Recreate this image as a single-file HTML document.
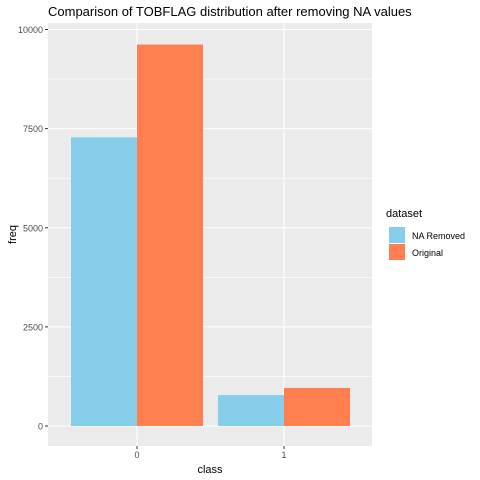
<!DOCTYPE html>
<html><head><meta charset="utf-8"><style>body{margin:0;background:#fff}svg{display:block;font-family:"Liberation Sans",sans-serif}</style></head>
<body>
<svg id="c" width="480" height="480" xmlns="http://www.w3.org/2000/svg"></svg>
<script>
const categories = ["0", "1"];
const seriesNames = ["NA Removed", "Original"];
const naRemoved = [7280, 780];
const original = [9620, 960];
const yTicks = [0, 2500, 5000, 7500, 10000];
const colors = ["#87CEEB", "#FF7F50"];
const svg = document.getElementById('c');
const NS = "http://www.w3.org/2000/svg";
function el(tag, attrs, text){const e=document.createElementNS(NS,tag);for(const k in attrs)e.setAttribute(k,attrs[k]);if(text!==undefined)e.textContent=text;svg.appendChild(e);return e;}
const pL=48, pR=372, pT=23, pB=446;
const y0=426, yPer=(426-29.5)/10000;
const yS=v=>y0-v*yPer;
const xC=i=>137+i*147;
const bw=66;
let r=el('rect',{x:pL,y:pT,width:pR-pL,height:pB-pT,fill:'#EBEBEB'});


for(let i=0;i<yTicks.length-1;i++){const v=(yTicks[i]+yTicks[i+1])/2;
 const g=el('line',{x1:pL,x2:pR,y1:yS(v),y2:yS(v),stroke:'#fff','stroke-width':0.6});
 
 }
yTicks.forEach(v=>{
 const g=el('line',{x1:pL,x2:pR,y1:yS(v),y2:yS(v),stroke:'#fff','stroke-width':1.1});
 
 
 const t=el('line',{x1:pL-3,x2:pL,y1:yS(v),y2:yS(v),stroke:'#333','stroke-width':1});
 
 
 const l=el('text',{x:pL-5,y:yS(v)+3.5,'text-anchor':'end','font-size':9,fill:'#4D4D4D'},String(v));
 
 
});
categories.forEach((c,i)=>{
 const g=el('line',{x1:xC(i),x2:xC(i),y1:pT,y2:pB,stroke:'#fff','stroke-width':1.1});
 
 
});
[naRemoved, original].forEach((arr,s)=>{
 arr.forEach((v,i)=>{
  const x=xC(i)-bw+s*bw;
  const b=el('rect',{x:x,y:yS(v),width:bw,height:y0-yS(v),fill:colors[s]});
  
  
 });
});
categories.forEach((c,i)=>{
 const t=el('line',{x1:xC(i),x2:xC(i),y1:pB,y2:pB+3,stroke:'#333','stroke-width':1});
 
 
 const l=el('text',{x:xC(i),y:pB+12,'text-anchor':'middle','font-size':9,fill:'#4D4D4D'},c);
 
 
});
let e;
e=el('text',{x:(pL+pR)/2,y:473,'text-anchor':'middle','font-size':11,fill:'#000'},'class');


e=el('text',{x:16,y:(pT+pB)/2,'text-anchor':'middle','font-size':11,fill:'#000',transform:'rotate(-90 16 '+((pT+pB)/2)+')'},'freq');


e=el('text',{x:pL,y:16,'font-size':13,fill:'#000'},'Comparison of TOBFLAG distribution after removing NA values');


e=el('text',{x:386,y:217,'font-size':11,fill:'#000'},'dataset');


seriesNames.forEach((n,s)=>{
 const k=el('rect',{x:389,y:227+s*17,width:16,height:16,fill:colors[s]});
 
 
 const t=el('text',{x:412,y:239+s*17,'font-size':9,fill:'#000'},n);
 
 
});
</script>
</body></html>
